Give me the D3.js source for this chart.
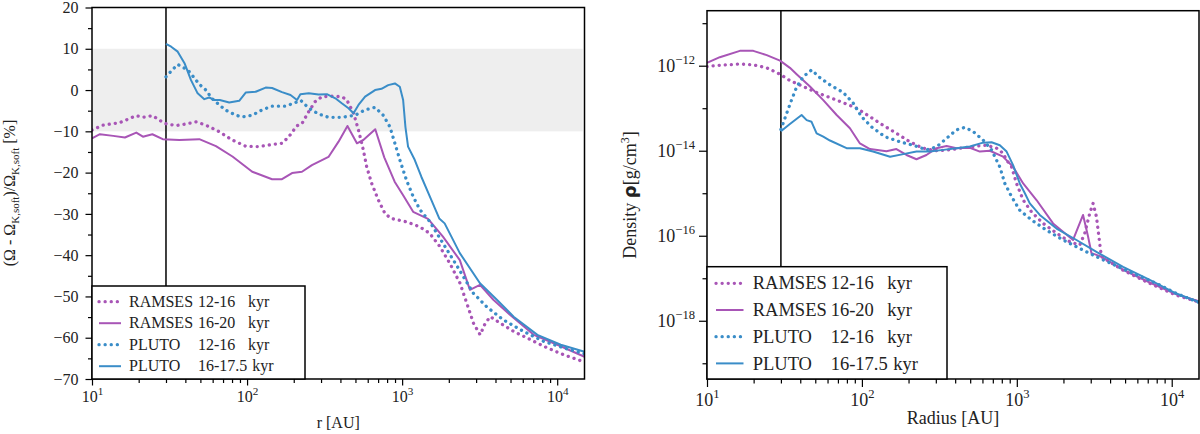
<!DOCTYPE html>
<meta charset="utf-8">
<style>

body {
  margin: 0;
  background: #fff;
}

.chart text {
  font-family: "Liberation Serif", "DejaVu Serif", serif;
  fill: #222;
}

.chart .tick line {
  stroke: #000;
  stroke-width: 1.2;
}

</style>
<svg class="chart" width="1200" height="434"></svg>
<script src="https://cdnjs.cloudflare.com/ajax/libs/d3/7.8.5/d3.min.js"></script>
<script>

// ---- data: [radius in AU, value] ----

// left panel: (Omega - Omega_K,soft)/Omega_K,soft in %
var ramses12Omega = [[10,-9.7],[11.8,-8.5],[15.1,-7.9],[19.3,-6.2],[21.2,-6.6],[24.6,-6.2],[29.4,-8.1],[34.9,-8.6],[40.5,-8.2],[46.9,-7.7],[54.3,-8.5],[66.2,-10.1],[80.2,-12.1],[98,-13.6],[119,-13.7],[145,-13.2],[168,-12.9],[186,-11.3],[209,-8.7],[226,-8.1],[250,-5.2],[275,-2.8],[304,-1.6],[352,-1.5],[408,-1.6],[440,-2.4],[486,-5.6],[523,-9.7],[562,-14.5],[591,-18.6],[636,-22.6],[702,-26.6],[775,-29.9],[847,-31.1],[1061,-31.9],[1294,-33.1],[1505,-34.7],[1750,-37.9],[2032,-42],[2362,-46.8],[2610,-51.6],[2886,-56.5],[3186,-59.3],[3434,-56.5],[3704,-54.9],[4307,-56.5],[5254,-58.5],[6753,-60.5],[8665,-62.5],[11140,-64.2],[15000,-65.9]];
var ramses20Omega = [[10,-11.7],[11.25,-10.7],[13.7,-11.1],[16.3,-11.5],[19.3,-10.3],[21.3,-11.3],[24.5,-10.7],[28.6,-11.9],[36.6,-12.1],[49.2,-11.9],[63,-13.6],[80.5,-16.1],[108,-19.8],[145,-21.6],[168,-21.6],[195,-20.1],[226,-19.8],[262,-18.2],[335,-16.2],[389,-12.5],[444,-8.7],[511,-12.9],[562,-12.1],[671,-9.5],[767,-16.3],[895,-22.2],[1015,-25.5],[1178,-29.5],[1469,-31.2],[1833,-35.5],[2355,-41.2],[2737,-48.4],[3177,-47.2],[3875,-50.8],[4977,-54.5],[7063,-59.3],[10020,-61.7],[15000,-64.6]];
var pluto12Omega = [[30,3.2],[32.4,4.6],[35.7,6.2],[39.5,5.3],[42.5,4.4],[49.2,1.4],[54.3,0],[59.2,-2],[66.2,-3.6],[73,-4.9],[84.7,-6.1],[93.3,-6.5],[108,-6.1],[125,-4.8],[145,-3.9],[177,-3.9],[203,-3.1],[222,-2.5],[250,-4.4],[289,-5.8],[335,-6.6],[408,-6.6],[498,-6.1],[577,-4.8],[669,-4.2],[755,-6.1],[834,-8.9],[898,-12.9],[966,-16.9],[1066,-21.8],[1178,-25.8],[1303,-29],[1503,-31.8],[1833,-37.1],[2240,-42.4],[2878,-49.2],[3508,-52.5],[4508,-55.7],[6085,-58.5],[8205,-60.9],[11090,-62.5],[15000,-63.9]];
var pluto175Omega = [[30,11.2],[32.4,10.5],[35.7,9.3],[39.5,6.5],[43.5,2.4],[48,-0.8],[53,-2.2],[57,-1.8],[61.4,-2.4],[66.7,-2.4],[76.7,-3.0],[89,-2.6],[98,-0.6],[113.7,-0.4],[131.8,0.6],[145,0.5],[168,-0.5],[190.6,-1.2],[210,-2.4],[220.7,-1.0],[250,-0.8],[289,-1.1],[327,-1.0],[371,-2.0],[408,-3.2],[451,-4.4],[486,-5.6],[523,-3.6],[577,-1.6],[669,0],[736,0.3],[813,1.2],[898,1.6],[966,0.8],[1015,-2.4],[1050,-8.9],[1092,-13.7],[1205,-16.9],[1330,-21],[1542,-26.6],[1735,-31.1],[1880,-32.3],[2355,-39.5],[3177,-46.8],[4082,-50.8],[5236,-54.9],[7450,-59.3],[10540,-61.7],[15000,-63.4]];

// right panel: log10 of density in g/cm^3
var ramses12LogRho = [[10,-12.02],[12.1,-11.99],[16.3,-11.96],[19.9,-11.98],[24.3,-12.05],[29.6,-12.2],[34.3,-12.35],[41.8,-12.49],[51,-12.63],[62.2,-12.75],[75.7,-12.87],[92.4,-13.0],[112.7,-13.2],[137,-13.4],[167,-13.59],[204,-13.79],[248,-13.94],[303,-14.0],[370,-13.98],[451,-13.93],[550,-13.89],[638,-13.87],[740,-13.94],[816,-14.06],[859,-14.22],[925,-14.38],[996,-14.77],[1099,-15.16],[1245,-15.44],[1479,-15.71],[1805,-15.94],[2198,-16.14],[2548,-16.22],[2746,-15.94],[2958,-15.47],[3106,-15.24],[3266,-15.55],[3429,-16.18],[3516,-16.49],[4850,-16.81],[7210,-17.12],[10710,-17.4],[15000,-17.56]];
var ramses20LogRho = [[10,-11.93],[12.1,-11.8],[16.3,-11.65],[19.9,-11.65],[24.3,-11.75],[29.6,-11.88],[34.3,-12.05],[37.9,-12.2],[46.2,-12.49],[56.3,-12.81],[68.7,-13.16],[83.7,-13.47],[97.1,-13.83],[112.7,-13.96],[144,-14.01],[167,-13.96],[194,-14.1],[225,-14.2],[261,-14.1],[303,-13.94],[352,-13.89],[408,-13.94],[498,-13.93],[577,-14.02],[669,-14.0],[816,-14.14],[946,-14.38],[1099,-14.77],[1340,-15.16],[1714,-15.71],[2307,-16.1],[2677,-15.51],[2883,-16.02],[3034,-16.41],[3516,-16.49],[4850,-16.8],[7210,-17.1],[10710,-17.38],[15000,-17.54]];
var pluto12LogRho = [[30,-13.5],[32.7,-13.12],[35.2,-12.8],[37.9,-12.5],[41.8,-12.26],[47.3,-12.1],[53.5,-12.28],[62.2,-12.45],[75.7,-12.63],[87.9,-12.88],[99.5,-13.2],[115.5,-13.44],[140.7,-13.67],[175.8,-13.79],[214,-13.87],[261,-13.98],[303,-13.91],[352,-13.71],[408,-13.51],[463,-13.45],[523,-13.55],[606,-13.75],[687,-13.98],[777,-14.38],[837,-14.77],[925,-15.08],[1045,-15.4],[1245,-15.63],[1555,-15.87],[1992,-16.1],[2548,-16.3],[3429,-16.53],[5354,-16.85],[7960,-17.12],[10710,-17.36],[15000,-17.57]];
var pluto175LogRho = [[30,-13.54],[34.3,-13.37],[40.8,-13.16],[44,-13.28],[47.3,-13.32],[51,-13.59],[56.3,-13.67],[62.2,-13.76],[79.6,-13.94],[97.1,-13.94],[118,-14.02],[152,-14.14],[185,-14.08],[225,-14.02],[275,-14.02],[335,-13.98],[408,-13.94],[498,-13.9],[606,-13.81],[687,-13.8],[777,-13.87],[859,-14.02],[946,-14.34],[1045,-14.77],[1127,-15.0],[1213,-15.24],[1407,-15.51],[1805,-15.83],[2427,-16.1],[3266,-16.38],[4850,-16.73],[7210,-17.04],[10710,-17.36],[15000,-17.56]];

var legendNames = ["RAMSES", "RAMSES", "PLUTO", "PLUTO"];
var legendPeriods = ["12-16", "16-20", "12-16", "16-17.5"];
var seriesColors = ["#a855b6", "#a855b6", "#3a8dc8", "#3a8dc8"];
var seriesDotted = [true, false, true, false];

var radiusRange = [10, 15000];
var innerRadius = 30;            // vertical line
var xMajorTicks = [10, 100, 1000, 10000];
var omegaRange = [-70, 20];
var omegaMajorTicks = [-70, -60, -50, -40, -30, -20, -10, 0, 10, 20];
var omegaMinorTicks = [-65, -55, -45, -35, -25, -15, -5, 5, 15];
var omegaBand = [-10, 10];
var rhoRange = [Math.pow(10, -19.37), Math.pow(10, -10.706)];
var rhoMajorExp = [-18, -16, -14, -12];
var rhoMinorExp = [-19, -17, -15, -13, -11];

var serif = '"Liberation Serif", "DejaVu Serif", serif';
var svg = d3.select(".chart");

function supLabel(text, base, exp, size) {
  text.text(null);
  text.append("tspan").text(base);
  text.append("tspan")
      .attr("dy", -0.42 * size)
      .attr("font-size", size * 0.7)
      .text(exp);
}

function minus(n) { return n < 0 ? "\u2212" + (-n) : "" + n; }

function panel(o) {
  var g = svg.append("g");

  var x = d3.scaleLog().domain(radiusRange).range([o.left, o.right]);
  var y = o.y.range([o.bottom, o.top]);

  g.append("clipPath").attr("id", "clip" + o.id)
    .append("rect")
      .attr("x", o.left).attr("y", o.top)
      .attr("width", o.right - o.left).attr("height", o.bottom - o.top);

  var plot = g.append("g").attr("clip-path", "url(#clip" + o.id + ")");

  if (o.band) {
    plot.append("rect")
        .attr("x", o.left)
        .attr("width", x(14600) - o.left)
        .attr("y", y(o.band[1]))
        .attr("height", y(o.band[0]) - y(o.band[1]))
        .attr("fill", "#eeeeee");
  }

  plot.append("line")
      .attr("x1", x(innerRadius)).attr("x2", x(innerRadius))
      .attr("y1", o.top).attr("y2", o.bottom)
      .attr("stroke", "#000")
      .attr("stroke-width", 1.5);

  var line = d3.line()
      .x(function(d) { return x(d[0]); })
      .y(function(d) { return y(o.value(d[1])); });

  o.data.forEach(function(s, i) {
    plot.append("path")
        .datum(s)
        .attr("d", line)
        .attr("fill", "none")
        .attr("stroke", seriesColors[i])
        .attr("stroke-width", seriesDotted[i] ? 3.3 : 2)
        .attr("stroke-dasharray", seriesDotted[i] ? "0.1 6" : null)
        .attr("stroke-linecap", seriesDotted[i] ? "round" : "butt")
        .attr("stroke-linejoin", "round");
  });

  // axes
  var xMinor = x.ticks().filter(function(d) { return xMajorTicks.indexOf(d) < 0; });

  g.append("g")
      .attr("transform", "translate(0," + o.bottom + ")")
      .call(d3.axisBottom(x).tickValues(xMinor).tickFormat("").tickSize(o.minorTick))
      .call(function(a) { a.select(".domain").remove(); });

  g.append("g")
      .attr("transform", "translate(0," + o.bottom + ")")
      .call(d3.axisBottom(x).tickValues(xMajorTicks).tickSize(o.majorTick).tickPadding(o.xPad))
      .call(function(a) {
        a.select(".domain").remove();
        a.attr("font-family", serif).attr("font-size", o.tickFont);
        a.selectAll("text")
            .style("font-family", serif)
            .each(function(d) { supLabel(d3.select(this), "10", Math.round(Math.log10(d)), o.tickFont); });
      });

  g.append("g")
      .attr("transform", "translate(" + o.left + ",0)")
      .call(d3.axisLeft(y).tickValues(o.yMinor).tickFormat("").tickSize(o.minorTick))
      .call(function(a) { a.select(".domain").remove(); });

  g.append("g")
      .attr("transform", "translate(" + o.left + ",0)")
      .call(d3.axisLeft(y).tickValues(o.yMajor).tickSize(o.majorTick).tickPadding(o.yPad))
      .call(function(a) {
        a.select(".domain").remove();
        a.attr("font-family", serif).attr("font-size", o.tickFont);
        a.selectAll("text")
            .style("font-family", serif)
            .each(function(d) { o.yLabel(d3.select(this), d); });
      });

  g.append("rect")
      .attr("x", o.left).attr("y", o.top)
      .attr("width", o.right - o.left).attr("height", o.bottom - o.top)
      .attr("fill", "none")
      .attr("stroke", "#000")
      .attr("stroke-width", 1.5);

  // legend
  var L = o.legend;
  g.append("rect")
      .attr("x", o.left).attr("y", L.top)
      .attr("width", L.width).attr("height", o.bottom - L.top)
      .attr("fill", "#fff")
      .attr("stroke", "#000")
      .attr("stroke-width", 1.5);

  legendNames.forEach(function(name, i) {
    var cy = L.top + L.first + i * L.step;
    g.append("line")
        .attr("x1", o.left + L.lineX[0]).attr("x2", o.left + L.lineX[1])
        .attr("y1", cy).attr("y2", cy)
        .attr("stroke", seriesColors[i])
        .attr("stroke-width", seriesDotted[i] ? 3.3 : 2)
        .attr("stroke-dasharray", seriesDotted[i] ? "0.1 6" : null)
        .attr("stroke-linecap", seriesDotted[i] ? "round" : "butt");
    var t = g.append("g").attr("font-size", L.font);
    t.append("text").attr("x", o.left + L.textX[0]).attr("y", cy + L.font * 0.33).text(name);
    var p = t.append("text").attr("x", o.left + L.textX[1]).attr("y", cy + L.font * 0.33).text(legendPeriods[i]);
    var kx = o.left + L.textX[2];
    var pEnd = o.left + L.textX[1] + p.node().getComputedTextLength() + L.font * 0.3;
    t.append("text").attr("x", Math.max(kx, pEnd)).attr("y", cy + L.font * 0.33).text("kyr");
  });

  return g;
}

// ---- left panel: rotation curve deviation ----
var left = panel({
  id: "a",
  left: 92, right: 584.5, top: 7.5, bottom: 379,
  y: d3.scaleLinear().domain(omegaRange),
  value: function(v) { return v; },
  data: [ramses12Omega, ramses20Omega, pluto12Omega, pluto175Omega],
  band: omegaBand,
  yMajor: omegaMajorTicks,
  yMinor: omegaMinorTicks,
  yLabel: function(t, d) { t.text(minus(d)); },
  majorTick: 6.5, minorTick: 4, xPad: 5, yPad: 7, tickFont: 16,
  legend: { top: 286, width: 213, first: 15.7, step: 21.5, font: 16,
            lineX: [7, 29], textX: [37, 106, 156] }
});

left.append("text")
    .attr("x", (92 + 584.5) / 2).attr("y", 428)
    .attr("text-anchor", "middle")
    .attr("font-size", 16)
    .text("r [AU]");

var yl = left.append("text")
    .attr("transform", "translate(15,193) rotate(-90)")
    .attr("text-anchor", "middle")
    .attr("font-size", 16);
yl.append("tspan").text("(\u03a9 - \u03a9");
yl.append("tspan").attr("font-size", 11).attr("dy", 4).text("K,soft");
yl.append("tspan").attr("dy", -4).text(")/\u03a9");
yl.append("tspan").attr("font-size", 11).attr("dy", 4).text("K,soft");
yl.append("tspan").attr("dy", -4).text(" [%]");

// ---- right panel: density ----
var right = panel({
  id: "b",
  left: 707, right: 1199, top: 10.7, bottom: 379,
  y: d3.scaleLog().domain(rhoRange),
  value: function(v) { return Math.pow(10, v); },
  data: [ramses12LogRho, ramses20LogRho, pluto12LogRho, pluto175LogRho],
  band: null,
  yMajor: rhoMajorExp.map(function(e) { return Math.pow(10, e); }),
  yMinor: rhoMinorExp.map(function(e) { return Math.pow(10, e); }),
  yLabel: function(t, d) { supLabel(t, "10", minus(Math.round(Math.log10(d))), 18); },
  majorTick: 8, minorTick: 4.5, xPad: 6, yPad: 4, tickFont: 18,
  legend: { top: 266.7, width: 240, first: 16.6, step: 26.7, font: 18.5,
            lineX: [9, 36.5], textX: [45.7, 123.7, 180.3] }
});

right.append("text")
    .attr("x", (707 + 1199) / 2).attr("y", 424)
    .attr("text-anchor", "middle")
    .attr("font-size", 18)
    .text("Radius [AU]");

var rl = right.append("text")
    .attr("transform", "translate(636,195) rotate(-90)")
    .attr("text-anchor", "middle")
    .attr("font-size", 18);
rl.append("tspan").text("Density ");
rl.append("tspan").attr("font-family", "DejaVu Sans").attr("font-weight", "bold").text("\u03c1");
rl.append("tspan").text("[g/cm");
rl.append("tspan").attr("font-size", 12).attr("dy", -7).text("3");
rl.append("tspan").attr("dy", 7).text("]");

</script>
